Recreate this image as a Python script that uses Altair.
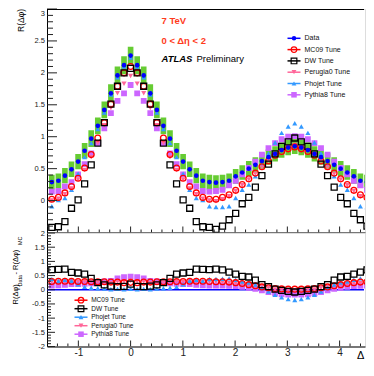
import altair as alt
import pandas as pd

# ---------------- data ----------------
# bin centres in delta-phi (rad)
DPHI = [-1.508, -1.382, -1.257, -1.131, -1.005, -0.880, -0.754, -0.628, -0.503, -0.377, -0.251, -0.126,
        0.000, 0.126, 0.251, 0.377, 0.503, 0.628, 0.754, 0.880, 1.005, 1.131, 1.257, 1.382, 1.508,
        1.634, 1.759, 1.885, 2.011, 2.136, 2.262, 2.388, 2.513, 2.639, 2.765, 2.890, 3.016, 3.142,
        3.267, 3.393, 3.519, 3.644, 3.770, 3.896, 4.021, 4.147, 4.273, 4.398, 4.524, 4.650]

DATA = [0.29, 0.31, 0.39, 0.49, 0.61, 0.78, 0.97, 1.17, 1.42, 1.68, 1.96, 2.12,
        2.27, 2.12, 1.96, 1.68, 1.42, 1.17, 0.97, 0.78, 0.61, 0.49, 0.39, 0.31, 0.29,
        0.28, 0.29, 0.31, 0.38, 0.44, 0.50, 0.56, 0.62, 0.68, 0.73, 0.79, 0.83, 0.85,
        0.83, 0.79, 0.73, 0.68, 0.62, 0.56, 0.50, 0.44, 0.38, 0.31, 0.29, 0.28]

SYST = [0.115, 0.115, 0.12, 0.12, 0.12, 0.12, 0.13, 0.13, 0.13, 0.14, 0.14, 0.14,
        0.14, 0.14, 0.14, 0.14, 0.13, 0.13, 0.13, 0.12, 0.12, 0.12, 0.12, 0.115, 0.115,
        0.115, 0.115, 0.115, 0.115, 0.115, 0.12, 0.12, 0.12, 0.12, 0.12, 0.12, 0.12, 0.12,
        0.12, 0.12, 0.12, 0.12, 0.12, 0.12, 0.12, 0.115, 0.115, 0.115, 0.115, 0.115]

MC09 = [0.02, 0.05, 0.12, 0.22, 0.35, 0.51, 0.72, 0.98, 1.22, 1.51, 1.79, 2.00,
        2.10, 2.00, 1.79, 1.51, 1.22, 0.98, 0.72, 0.51, 0.35, 0.22, 0.12, 0.05, 0.02,
        0.02, 0.05, 0.09, 0.16, 0.25, 0.34, 0.43, 0.53, 0.62, 0.71, 0.77, 0.81, 0.84,
        0.81, 0.77, 0.71, 0.62, 0.53, 0.43, 0.34, 0.25, 0.16, 0.09, 0.05, 0.02]

DW = [-0.42, -0.41, -0.33, -0.12, 0.01, 0.26, 0.56, 0.90, 1.22, 1.51, 1.79, 2.00,
      2.07, 2.00, 1.79, 1.51, 1.22, 0.90, 0.56, 0.26, 0.01, -0.12, -0.33, -0.41, -0.42,
      -0.45, -0.40, -0.30, -0.20, -0.05, 0.05, 0.21, 0.39, 0.57, 0.73, 0.85, 0.92, 0.98,
      0.92, 0.85, 0.73, 0.57, 0.39, 0.21, 0.05, -0.05, -0.20, -0.30, -0.40, -0.45]

PERUGIA0 = [0.00, 0.03, 0.10, 0.19, 0.33, 0.48, 0.68, 0.90, 1.18, 1.45, 1.68, 1.83,
            1.95, 1.83, 1.68, 1.45, 1.18, 0.90, 0.68, 0.48, 0.33, 0.19, 0.10, 0.03, 0.00,
            -0.01, 0.02, 0.07, 0.15, 0.24, 0.33, 0.42, 0.52, 0.62, 0.72, 0.79, 0.84, 0.87,
            0.84, 0.79, 0.72, 0.62, 0.52, 0.42, 0.33, 0.24, 0.15, 0.07, 0.02, -0.01]

PHOJET = [-0.09, 0.01, 0.04, 0.17, 0.42, 0.68, 0.90, 1.12, 1.38, 1.66, 1.93, 2.10,
          2.24, 2.10, 1.93, 1.66, 1.38, 1.12, 0.90, 0.68, 0.42, 0.17, 0.04, 0.01, -0.09,
          -0.10, -0.10, -0.09, 0.04, 0.17, 0.25, 0.38, 0.56, 0.74, 0.91, 1.06, 1.16, 1.21,
          1.16, 1.06, 0.91, 0.74, 0.56, 0.38, 0.25, 0.17, 0.04, -0.09, -0.10, -0.10]

PYTHIA8 = [0.14, 0.15, 0.22, 0.29, 0.41, 0.57, 0.74, 0.90, 1.13, 1.37, 1.56, 1.68,
           1.81, 1.68, 1.56, 1.37, 1.13, 0.90, 0.74, 0.57, 0.41, 0.29, 0.22, 0.15, 0.14,
           0.15, 0.17, 0.24, 0.31, 0.41, 0.51, 0.61, 0.72, 0.82, 0.90, 0.96, 1.00, 1.01,
           1.00, 0.96, 0.90, 0.82, 0.72, 0.61, 0.51, 0.41, 0.31, 0.24, 0.17, 0.15]

# lower panel: R(dphi)_Data - R(dphi)_MC
DIFF_MC09 = [0.29, 0.30, 0.30, 0.30, 0.29, 0.29, 0.28, 0.28, 0.28, 0.27, 0.27, 0.25,
             0.26, 0.25, 0.27, 0.27, 0.28, 0.28, 0.28, 0.29, 0.29, 0.30, 0.30, 0.30, 0.29,
             0.28, 0.28, 0.27, 0.25, 0.22, 0.18, 0.14, 0.10, 0.07, 0.04, 0.03, 0.02, 0.02,
             0.02, 0.03, 0.04, 0.07, 0.10, 0.14, 0.18, 0.22, 0.25, 0.27, 0.28, 0.28]

DIFF_DW = [0.71, 0.72, 0.73, 0.61, 0.59, 0.55, 0.40, 0.25, 0.17, 0.13, 0.11, 0.12,
           0.20, 0.12, 0.11, 0.13, 0.17, 0.25, 0.40, 0.55, 0.59, 0.61, 0.73, 0.72, 0.71,
           0.73, 0.70, 0.62, 0.55, 0.47, 0.45, 0.34, 0.18, 0.11, 0.02, -0.02, -0.06, -0.08,
           -0.06, -0.02, 0.02, 0.11, 0.18, 0.34, 0.45, 0.47, 0.55, 0.62, 0.70, 0.73]

DIFF_PHOJET = [0.38, 0.31, 0.35, 0.32, 0.19, 0.10, 0.07, 0.05, 0.04, 0.02, 0.03, 0.02,
               0.03, 0.02, 0.03, 0.02, 0.04, 0.05, 0.07, 0.10, 0.19, 0.32, 0.35, 0.31, 0.38,
               0.38, 0.39, 0.40, 0.35, 0.29, 0.25, 0.18, 0.06, -0.06, -0.18, -0.27, -0.33, -0.36,
               -0.33, -0.27, -0.18, -0.06, 0.06, 0.18, 0.25, 0.29, 0.35, 0.40, 0.39, 0.38]

DIFF_PERUGIA0 = [0.29, 0.28, 0.29, 0.30, 0.28, 0.30, 0.29, 0.27, 0.24, 0.23, 0.28, 0.29,
                 0.32, 0.29, 0.28, 0.23, 0.24, 0.27, 0.29, 0.30, 0.28, 0.30, 0.29, 0.28, 0.29,
                 0.29, 0.27, 0.24, 0.23, 0.20, 0.17, 0.14, 0.10, 0.06, 0.01, 0.00, -0.01, -0.02,
                 -0.01, 0.00, 0.01, 0.06, 0.10, 0.14, 0.17, 0.20, 0.23, 0.24, 0.27, 0.29]

DIFF_PYTHIA8 = [0.15, 0.16, 0.17, 0.20, 0.20, 0.21, 0.23, 0.27, 0.29, 0.31, 0.40, 0.44,
                0.46, 0.44, 0.40, 0.31, 0.29, 0.27, 0.23, 0.21, 0.20, 0.20, 0.17, 0.16, 0.15,
                0.15, 0.15, 0.14, 0.13, 0.10, 0.07, 0.03, -0.02, -0.08, -0.13, -0.16, -0.17, -0.17,
                -0.17, -0.16, -0.13, -0.08, -0.02, 0.03, 0.07, 0.10, 0.13, 0.14, 0.15, 0.15]

X_LABELS = [-1, 0, 1, 2, 3, 4]
TOP_Y_LABELS = [0, 0.5, 1, 1.5, 2, 2.5, 3]
BOT_Y_LABELS = [-2, -1.5, -1, -0.5, 0, 0.5, 1, 1.5, 2]
TOP_Y_MINOR = [i / 10 for i in range(-4, 30) if i % 5]
BOT_Y_MINOR = [i / 10 for i in range(-19, 20) if i % 5]
X_MINOR = [i / 5 for i in range(-7, 23) if i % 5]

LEGEND_TOP = ["Data", "MC09 Tune", "DW Tune", "Perugia0 Tune", "Phojet Tune", "Pythia8 Tune"]
LEGEND_BOT = ["MC09 Tune", "DW Tune", "Phojet Tune", "Perugia0 Tune", "Pythia8 Tune"]

# ---------------- styling ----------------
FONT = "Liberation Sans"
W = 318
H_TOP = 223.5
H_BOT = 113.5
PX_PER_UNIT = 52.25
XDOM = [-1.6, -1.6 + W / PX_PER_UNIT]
HALF_BIN = 0.054

STYLE = {
    "Data": dict(color="#0000ff", shape="circle", filled=True, size=22),
    "MC09 Tune": dict(color="#ff0000", shape="circle", filled=False, size=34),
    "DW Tune": dict(color="#000000", shape="square", filled=False, size=36),
    "Perugia0 Tune": dict(color="#ff6699", shape="triangle-down", filled=True, size=26),
    "Phojet Tune": dict(color="#3399ff", shape="triangle-up", filled=True, size=26),
    "Pythia8 Tune": dict(color="#cc66ff", shape="square", filled=True, size=34),
}

top_df = pd.DataFrame({"x": DPHI, "Data": DATA, "syst": SYST, "MC09 Tune": MC09, "DW Tune": DW,
                       "Perugia0 Tune": PERUGIA0, "Phojet Tune": PHOJET, "Pythia8 Tune": PYTHIA8})
bot_df = pd.DataFrame({"x": DPHI, "MC09 Tune": DIFF_MC09, "DW Tune": DIFF_DW, "Phojet Tune": DIFF_PHOJET,
                       "Perugia0 Tune": DIFF_PERUGIA0, "Pythia8 Tune": DIFF_PYTHIA8})
one = pd.DataFrame({"a": [0]})

xs = alt.Scale(domain=XDOM, nice=False, zero=False)
ys_top = alt.Scale(domain=[-0.5, 3], nice=False, zero=False)
ys_bot = alt.Scale(domain=[-2, 2], nice=False, zero=False)

lab = dict(labelFont=FONT, labelColor="#222222", labelExpr="datum.value + ''", labelOverlap=False)
ax_top_x = alt.Axis(title=None, labels=False, ticks=False, grid=False, domainColor="black", domainWidth=1)
ax_top_y = alt.Axis(title=None, values=TOP_Y_LABELS, ticks=False, grid=False, labelFontSize=7.5,
                    labelPadding=2.5, labelFlush=True, domainColor="black", domainWidth=1, **lab)
ax_bot_x = alt.Axis(title=None, values=X_LABELS, ticks=False, grid=False, labelFontSize=10,
                    labelPadding=1, labelFlush=False, domainColor="black", domainWidth=1, **lab)
ax_bot_y = alt.Axis(title=None, values=BOT_Y_LABELS, ticks=False, grid=False, labelFontSize=7.5,
                    labelPadding=2.5, labelFlush=False, domainColor="black", domainWidth=1, **lab)


def text(t, x, y, size, color="black", weight="normal", style="normal", align="left",
         baseline="middle", angle=0, **kw):
    return alt.Chart(one).mark_text(text=t, font=FONT, fontSize=size, color=color, fontWeight=weight,
                                    fontStyle=style, align=align, baseline=baseline, angle=angle,
                                    **kw).encode(x=alt.value(x), y=alt.value(y))


def yticks(vals, length, scale, axis):
    return alt.Chart(pd.DataFrame({"y": vals})).mark_rule(color="#222222", strokeWidth=1).encode(
        y=alt.Y("y:Q", scale=scale, axis=axis), x=alt.value(0), x2=alt.value(length))


def xticks(vals, length, h, axis):
    return alt.Chart(pd.DataFrame({"x": vals})).mark_rule(color="#222222", strokeWidth=1, clip=True).encode(
        x=alt.X("x:Q", scale=xs, axis=axis), y=alt.value(h), y2=alt.value(h - length))


def points(df, name, yscale, xaxis, yaxis):
    st = STYLE[name]
    return alt.Chart(df).mark_point(shape=st["shape"], filled=st["filled"], color=st["color"],
                                    size=st["size"], opacity=1, strokeWidth=1.3, clip=True).encode(
        x=alt.X("x:Q", scale=xs, axis=xaxis),
        y=alt.Y(f"{name}:Q", scale=yscale, axis=yaxis))


def legend(names, y0, dy, lx0, lx1, tx, fs):
    out = []
    for i, name in enumerate(names):
        st = STYLE[name]
        y = y0 + i * dy
        out.append(alt.Chart(one).mark_rule(color=st["color"], strokeWidth=1.5).encode(
            x=alt.value(lx0), x2=alt.value(lx1), y=alt.value(y)))
        out.append(alt.Chart(one).mark_point(shape=st["shape"], filled=st["filled"], color=st["color"],
                                             size=st["size"] * 0.9, opacity=1, strokeWidth=1.2).encode(
            x=alt.value((lx0 + lx1) / 2), y=alt.value(y)))
        out.append(text(name, tx, y, fs, color="#111111"))
    return out


# ---------------- upper panel ----------------
band = alt.Chart(top_df).transform_calculate(
    x0=f"datum.x - {HALF_BIN}", x1=f"datum.x + {HALF_BIN}",
    lo="datum.Data - datum.syst", hi="datum.Data + datum.syst",
).mark_rect(color="#66cc33", clip=True).encode(
    x=alt.X("x0:Q", scale=xs, axis=ax_top_x), x2="x1:Q",
    y=alt.Y("lo:Q", scale=ys_top, axis=ax_top_y), y2="hi:Q")

top_layers = [band]
for nm in ["Pythia8 Tune", "Phojet Tune", "Perugia0 Tune", "MC09 Tune", "DW Tune", "Data"]:
    top_layers.append(points(top_df, nm, ys_top, ax_top_x, ax_top_y))
top_layers += [
    yticks(TOP_Y_LABELS, 10, ys_top, ax_top_y),
    yticks(TOP_Y_MINOR, 6, ys_top, ax_top_y),
    xticks(X_LABELS, 6, H_TOP, ax_top_x),
    xticks(X_MINOR, 3, H_TOP, ax_top_x),
    # frame line along the top of the upper pad
    alt.Chart(one).mark_rule(color="black", strokeWidth=1).encode(
        x=alt.value(0), x2=alt.value(W - 1), y=alt.value(0.5)),
    # white anchor fixing the left edge of the drawing
    alt.Chart(one).mark_rule(color="white", strokeWidth=1).encode(
        x=alt.value(-38), y=alt.value(120), y2=alt.value(121)),
    text("7 TeV", 114.5, 12, 9.5, color="#ff3b1c", weight="bold"),
    text("0 < \u0394\u03b7 < 2", 114.5, 32, 9.5, color="#ff3b1c", weight="bold"),
    text("ATLAS", 114.5, 50, 9.5, weight="bold", style="italic"),
    text("Preliminary", 149.5, 50, 9.5),
    text("R(\u0394\u03c6)", -26.5, 0, 8.5, align="right", angle=270),
]
top_layers += legend(LEGEND_TOP, 29.3, 11.3, 240.5, 253.5, 257.5, 7)
top = alt.layer(*top_layers).properties(width=W, height=H_TOP)

# ---------------- lower panel ----------------
zero = alt.Chart(pd.DataFrame({"y": [0]})).mark_rule(color="#0000ff", strokeWidth=1.5).encode(
    y=alt.Y("y:Q", scale=ys_bot, axis=ax_bot_y), x=alt.value(0), x2=alt.value(W - 1))
bot_layers = [zero]
for nm in ["Pythia8 Tune", "Perugia0 Tune", "Phojet Tune", "MC09 Tune", "DW Tune"]:
    bot_layers.append(points(bot_df, nm, ys_bot, ax_bot_x, ax_bot_y))
bot_layers += [
    yticks(BOT_Y_LABELS, 8, ys_bot, ax_bot_y),
    yticks(BOT_Y_MINOR, 4, ys_bot, ax_bot_y),
    xticks(X_LABELS, 6, H_BOT, ax_bot_x),
    xticks(X_MINOR, 3, H_BOT, ax_bot_x),
    text("R(\u0394\u03c6)", -31, 71.5, 7.5, angle=270),
    text("Data", -27, 53.5, 5.5, angle=270),
    text("- R(\u0394\u03c6)", -31, 41.5, 7.5, angle=270),
    text("MC", -27, 12, 5.5, angle=270),
    text("\u0394\u03c6", 310, 123, 11, limit=9, ellipsis="\u200b"),
]
bot_layers += legend(LEGEND_BOT, 67.2, 8.5, 27.5, 40.5, 44.2, 6.5)
bot = alt.layer(*bot_layers).properties(width=W, height=H_BOT)

chart = alt.vconcat(top, bot, spacing=0, bounds="flush",
                    padding={"left": 0, "top": 0, "right": 0, "bottom": 0}).configure_view(
    stroke=None).configure(font=FONT, background="white")

chart.save("out.html", embed_options={"renderer": "svg", "actions": False})
